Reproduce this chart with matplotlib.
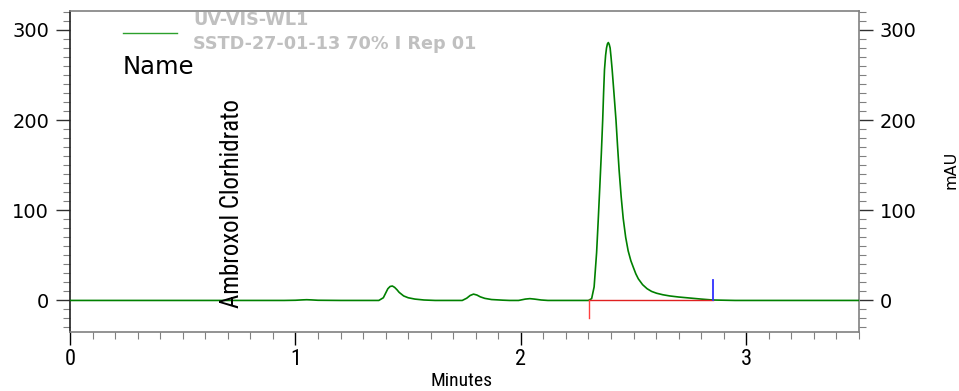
import matplotlib
matplotlib.use("Agg")
import matplotlib.pyplot as plt
from matplotlib import font_manager
from matplotlib.ticker import MultipleLocator

# Chromatogram trace (retention time in minutes, absorbance in mAU)
time_min = [0.00, 0.50, 0.95, 1.00, 1.03, 1.05, 1.07, 1.10, 1.20, 1.37, 1.39,
            1.40, 1.41, 1.42, 1.43, 1.44, 1.45, 1.46, 1.48, 1.50, 1.53, 1.57,
            1.62, 1.74, 1.76, 1.775, 1.79, 1.805, 1.82, 1.84, 1.87, 1.92, 1.95,
            1.99, 2.02, 2.04, 2.06, 2.09, 2.12, 2.25, 2.30, 2.314, 2.325, 2.336,
            2.343, 2.350, 2.357, 2.363, 2.367, 2.371, 2.376, 2.380, 2.384,
            2.388, 2.392, 2.396, 2.400, 2.405, 2.413, 2.422, 2.429, 2.436,
            2.445, 2.454, 2.465, 2.476, 2.488, 2.50, 2.51, 2.521, 2.54, 2.56,
            2.58, 2.602, 2.63, 2.66, 2.70, 2.735, 2.80, 2.85, 2.95, 3.20, 3.50]
absorb_mau = [0.0, 0.0, 0.0, 0.2, 0.6, 0.8, 0.6, 0.2, 0.0, 0.0, 3.0,
              8.0, 13.0, 15.5, 16.0, 14.5, 12.0, 9.0, 5.0, 3.0, 1.5, 0.5,
              0.0, 0.0, 2.5, 5.5, 7.0, 6.0, 4.0, 2.3, 1.0, 0.3, 0.0,
              0.0, 1.5, 2.0, 1.5, 0.5, 0.0, 0.0, 0.0, 2.0, 15.0, 53.0,
              88.0, 125.0, 163.0, 200.0, 230.0, 256.0, 272.0, 280.0, 284.5,
              286.0, 284.0, 280.0, 270.0, 256.0, 230.0, 200.0, 171.0, 144.0,
              115.0, 91.0, 70.0, 55.0, 44.0, 36.0, 29.5, 24.0, 17.5, 13.0,
              10.0, 8.0, 6.3, 5.0, 3.8, 3.0, 1.5, 0.5, 0.0, 0.0, 0.0]

# Peak integration limits and markers
peak_start = 2.302
peak_end = 2.852
start_marker = -20
end_marker = 23
peak_name = "Ambroxol Clorhidrato"
peak_label_time = 0.72

legend_lines = ["UV-VIS-WL1", "SSTD-27-01-13 70% I Rep 01"]

installed = {f.name for f in font_manager.fontManager.ttflist}
narrow = "Liberation Sans"
for cand in ("Liberation Sans Narrow", "DejaVu Sans Condensed",
             "Roboto Condensed", "Open Sans Condensed"):
    if cand in installed:
        narrow = cand
        break
plt.rcParams["font.family"] = ["DejaVu Sans"]

W, H = 959, 391
fig = plt.figure(figsize=(W / 100, H / 100), dpi=100)
ax = fig.add_axes([70 / W, 59 / H, 789 / W, 321 / H])

ax.plot(time_min, absorb_mau, color="#008000", lw=1.2, zorder=3)
ax.plot([peak_start, peak_end], [0, 0], color="#e02020", lw=1.0, zorder=4)
ax.plot([peak_start, peak_start], [0, start_marker], color="#ff4040", lw=1.0, zorder=4)
ax.plot([peak_end, peak_end], [0, end_marker], color="#3030ff", lw=1.3, zorder=4)

ax.set_xlim(0, 3.5)
ax.set_ylim(-35, 321)

ax.xaxis.set_major_locator(MultipleLocator(1))
ax.xaxis.set_minor_locator(MultipleLocator(0.1))
ax.yaxis.set_major_locator(MultipleLocator(100))
ax.yaxis.set_minor_locator(MultipleLocator(10))

ax.tick_params(axis="y", which="both", left=True, right=True, labelleft=True,
               labelright=True, direction="out", colors="#808080",
               labelcolor="black", labelsize=14)
ax.tick_params(axis="y", which="major", length=10, width=1.0, color="#303030", pad=5)
ax.tick_params(axis="y", which="minor", length=5, width=0.8)
ax.tick_params(axis="x", which="major", length=9, width=1.0, color="black",
               labelsize=16, pad=3)
ax.tick_params(axis="x", which="minor", length=5, width=0.8, color="#808080")
for lab in ax.get_xticklabels():
    lab.set_fontfamily(narrow)

for side in ("top", "right", "bottom"):
    ax.spines[side].set_color("#808080")
ax.spines["left"].set_color("#202020")
for sp in ax.spines.values():
    sp.set_linewidth(1.2)

fig.text(462 / W, 1 - 381 / H, "Minutes", ha="center", va="center",
         fontsize=14, family=narrow)
fig.text(951 / W, 1 - 170 / H, "mAU", rotation=90, ha="center",
         va="center", fontsize=11.5)

# legend block
fig.add_artist(plt.Line2D([123 / W, 177 / W], [1 - 33 / H, 1 - 33 / H],
                          color="#2ca02c", lw=1.0))
t1 = fig.text(193 / W, 1 - 20 / H, legend_lines[0], color="#c0c0c0",
              fontsize=11, fontweight="bold", va="center", ha="left")
t2 = fig.text(193 / W, 1 - 44 / H, legend_lines[1], color="#c0c0c0",
              fontsize=11, fontweight="bold", va="center", ha="left")
fig.text(123 / W, 1 - 67 / H, "Name", fontsize=17.5, va="center", ha="left")

name_txt = ax.text(peak_label_time, -8, peak_name, rotation=90, ha="center",
                   va="bottom", fontsize=16, family=narrow, zorder=5)

# size the long labels to their drawn lengths
renderer = fig.canvas.get_renderer()
def fit(txt, target, vertical=False):
    bb = txt.get_window_extent(renderer)
    span = bb.height if vertical else bb.width
    txt.set_fontsize(txt.get_fontsize() * target / span)

fit(t2, 282)
t1.set_fontsize(t2.get_fontsize())
fit(name_txt, 210, vertical=True)

fig.savefig("out.png", dpi=100)
